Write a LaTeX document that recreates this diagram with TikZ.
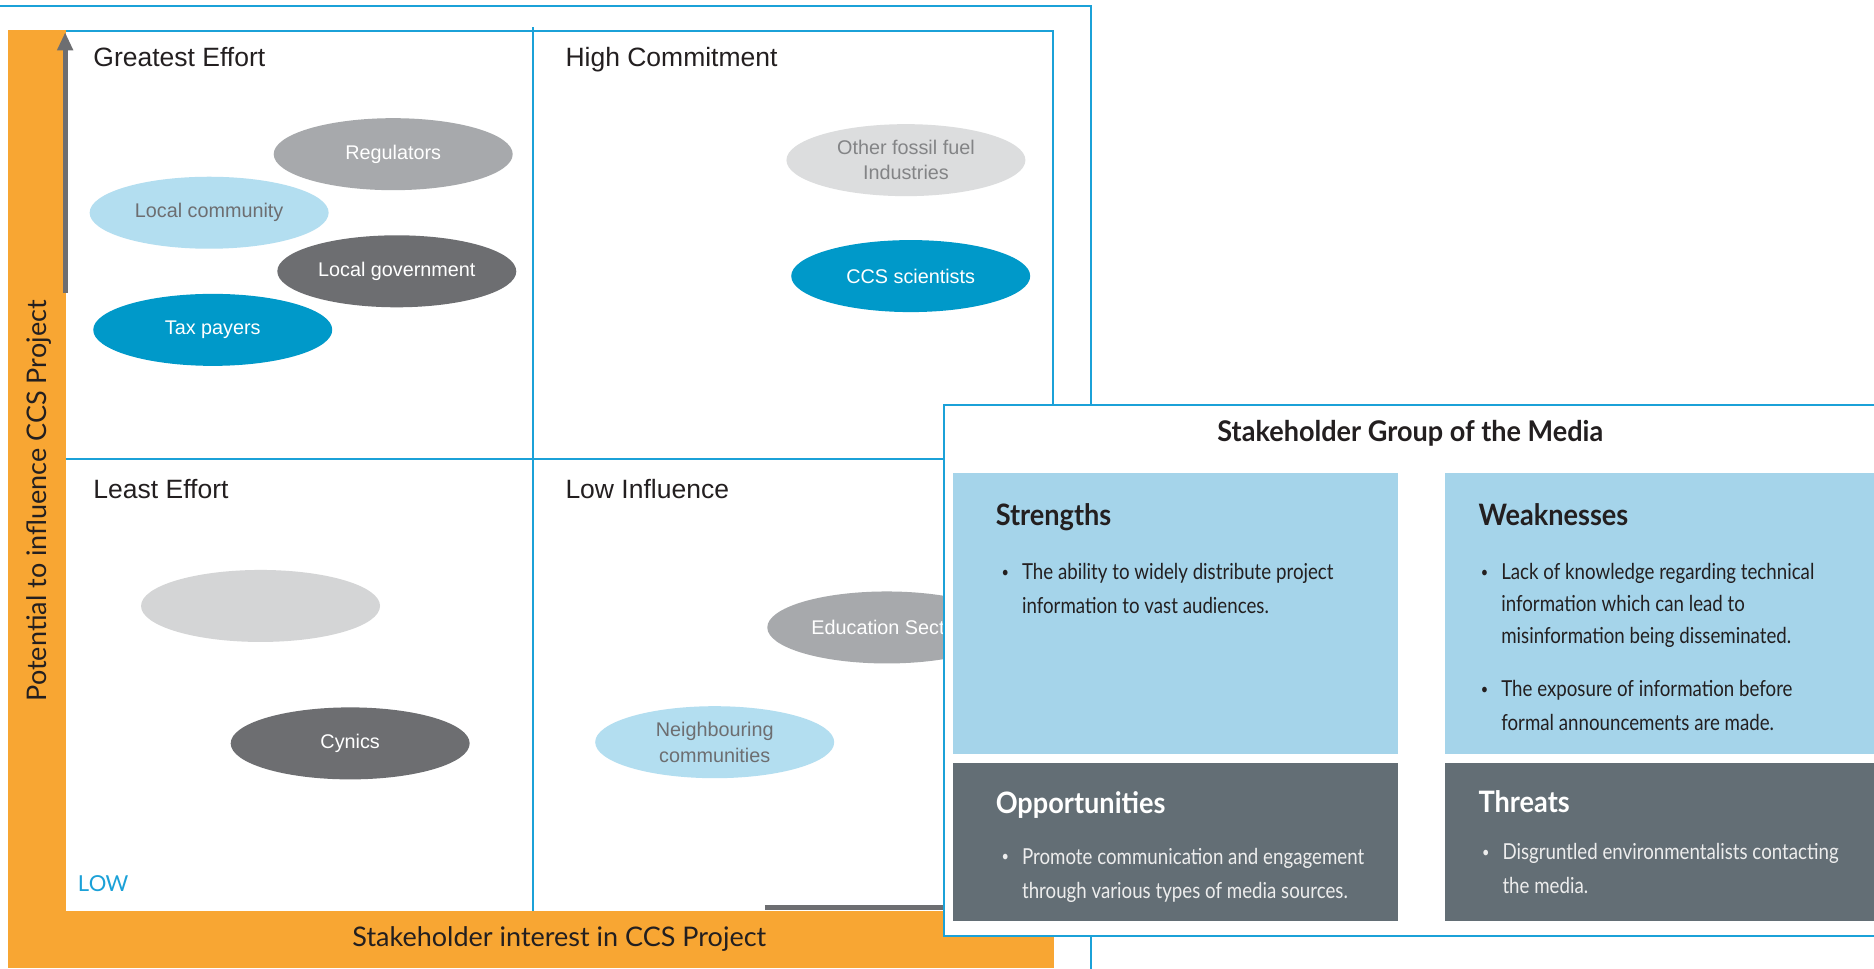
\documentclass[tikz,border=0pt]{standalone}
\usepackage{fontspec}
\setmainfont{Liberation Sans}
\newfontfamily\axisfont{Lato}
\newfontfamily\swotfont[FakeStretch=0.85]{Lato}
\newfontfamily\swothead[FakeStretch=0.92]{Lato}
\newfontfamily\titlefont[FakeStretch=0.95]{Lato}
\usetikzlibrary{shapes.geometric,arrows.meta}

\definecolor{frameblue}{HTML}{1BA1D8}
\definecolor{axisorange}{HTML}{F8A633}
\definecolor{arrowgrey}{HTML}{6D6E71}
\definecolor{inktext}{HTML}{231F20}
\definecolor{skyfill}{HTML}{B3DEF0}
\definecolor{oceanfill}{HTML}{0099C9}
\definecolor{darkgreyfill}{HTML}{6D6E71}
\definecolor{midgreyfill}{HTML}{A7A9AC}
\definecolor{palegreyfill}{HTML}{DCDDDE}
\definecolor{blankfill}{HTML}{D4D5D6}
\definecolor{labelgrey}{HTML}{6D6E71}
\definecolor{swotlight}{HTML}{A5D4EA}
\definecolor{swotdark}{HTML}{636E75}

\newcommand{\swotbullet}{\llap{\raisebox{0.1em}{\fontsize{15}{15}\selectfont\textbullet}\hspace{13pt}}}

\tikzset{
  blueline/.style={draw=frameblue, line width=2pt},
  blob/.style={ellipse, minimum width=239pt, minimum height=72pt, inner sep=0pt,
    align=center, font=\fontsize{19.8}{25.5}\selectfont},
  quad/.style={anchor=base west, inner sep=0pt, text=inktext,
    font=\fontsize{26.5}{30}\selectfont},
  axislabel/.style={inner sep=0pt, text=inktext, font=\axisfont\fontsize{27}{30}\selectfont},
  axisarrow/.style={draw=arrowgrey, line width=5pt},
  swothd/.style={anchor=base west, inner sep=0pt, font=\swothead\bfseries\fontsize{29.5}{32}\selectfont},
  swottxt/.style={anchor=base west, inner sep=0pt, font=\swotfont\fontsize{22}{30}\selectfont},
}

\begin{document}
\begin{tikzpicture}[x=1.1952pt, y=-1.1952pt]
\useasboundingbox (0,0) rectangle (1568,810);
\clip (0,0) rectangle (1568,810);
\fill[white] (0,0) rectangle (1568,810);

% outer frame
\draw[blueline] (-5,5) -- (913,5) -- (913,815);

% orange axis bands
\fill[axisorange] (7,25) rectangle (55,810);
\fill[axisorange] (7,762) rectangle (882,810);

% matrix area and quadrant dividers
\fill[white] (55,26) rectangle (881,762);
\draw[blueline] (55,26) -- (881,26) -- (881,762);
\draw[blueline] (446,23) -- (446,762);
\draw[blueline] (55,384) -- (881,384);

% axis arrows
\coordinate (yfrom) at (54.5,245);
\coordinate (yto) at (54.5,27);
\draw[axisarrow, -{Triangle[width=15pt,length=18pt]}] (yfrom) -- (yto);
\coordinate (xfrom) at (640,759.5);
\coordinate (xto) at (884,759.5);
\draw[axisarrow, -{Triangle[width=15pt,length=18pt]}] (xfrom) -- (xto);

% axis titles
\node[axislabel, rotate=90] (ytitle) at (33,419) {Potential to influence CCS Project};
\node[axislabel] (xtitle) at (468,786) {Stakeholder interest in CCS Project};
\node[anchor=base west, inner sep=0pt, text=frameblue, font=\axisfont\fontsize{22}{24}\selectfont] (low) at (65,746) {L\kern-0.02em O\kern-0.04em W};

% quadrant titles
\node[quad] (qge) at (78,56) {Greatest Effort};
\node[quad] (qhc) at (473,56) {High Commitment};
\node[quad] (qle) at (78,417) {Least Effort};
\node[quad] (qli) at (473,417) {Low Influence};

% stakeholders
\node[blob, fill=midgreyfill, text=white] (regulators) at (329,129) {Regulators};
\node[blob, fill=skyfill, text=labelgrey] (community) at (175,178) {Local community};
\node[blob, fill=darkgreyfill, text=white] (government) at (332,227) {Local government};
\node[blob, fill=oceanfill, text=white] (taxpayers) at (178,276) {Tax payers};
\node[blob, fill=palegreyfill, text=labelgrey!85] (fossil) at (758,134) {Other fossil fuel\\Industries};
\node[blob, fill=oceanfill, text=white] (scientists) at (762,231) {CCS scientists};
\node[blob, fill=blankfill] (blank) at (218,507) {};
\node[blob, fill=darkgreyfill, text=white] (cynics) at (293,622) {Cynics};
\node[blob, fill=midgreyfill, text=white] (education) at (742,525) {Education Sector};
\node[blob, fill=skyfill, text=labelgrey] (neighbours) at (598,621) {Neighbouring\\communities};

% SWOT panel
\filldraw[fill=white, draw=frameblue, line width=2pt] (790,339) rectangle (1600,783);
\node[anchor=base, inner sep=0pt, text=inktext, font=\titlefont\bfseries\fontsize{28.5}{32}\selectfont]
  (mediatitle) at (1180,369) {Stakeholder Group of the Media};

\fill[swotlight] (797,396) rectangle (1170,631);
\fill[swotlight] (1209,396) rectangle (1600,631);
\fill[swotdark] (797,638) rectangle (1170,771);
\fill[swotdark] (1209,638) rectangle (1600,771);

% strengths
\node[swothd, text=inktext] (sthd) at (833,440) {Strengths};
\node[swottxt, text=inktext] (st1) at (855,485) {\swotbullet The ability to widely distribute project};
\node[swottxt, text=inktext] (st2) at (855,513) {information to vast audiences.};

% weaknesses
\node[swothd, text=inktext] (wkhd) at (1237,440) {Weaknesses};
\node[swottxt, text=inktext] (wk1) at (1256,485) {\swotbullet Lack of knowledge regarding technical};
\node[swottxt, text=inktext] (wk2) at (1256,512) {information which can lead to};
\node[swottxt, text=inktext] (wk3) at (1256,538) {misinformation being disseminated.};
\node[swottxt, text=inktext] (wk4) at (1256,583) {\swotbullet The exposure of information before};
\node[swottxt, text=inktext] (wk5) at (1256,611) {formal announcements are made.};

% opportunities
\node[swothd, text=white] (ophd) at (833,681) {Opportunities};
\node[swottxt, text=white!93!black] (op1) at (855,723) {\swotbullet Promote communication and engagement};
\node[swottxt, text=white!93!black] (op2) at (855,752) {through various types of media sources.};

% threats
\node[swothd, text=white] (thhd) at (1237,680) {Threats};
\node[swottxt, text=white!93!black] (th1) at (1257,719) {\swotbullet Disgruntled environmentalists contacting};
\node[swottxt, text=white!93!black] (th2) at (1257,748) {the media.};
\end{tikzpicture}
\end{document}
